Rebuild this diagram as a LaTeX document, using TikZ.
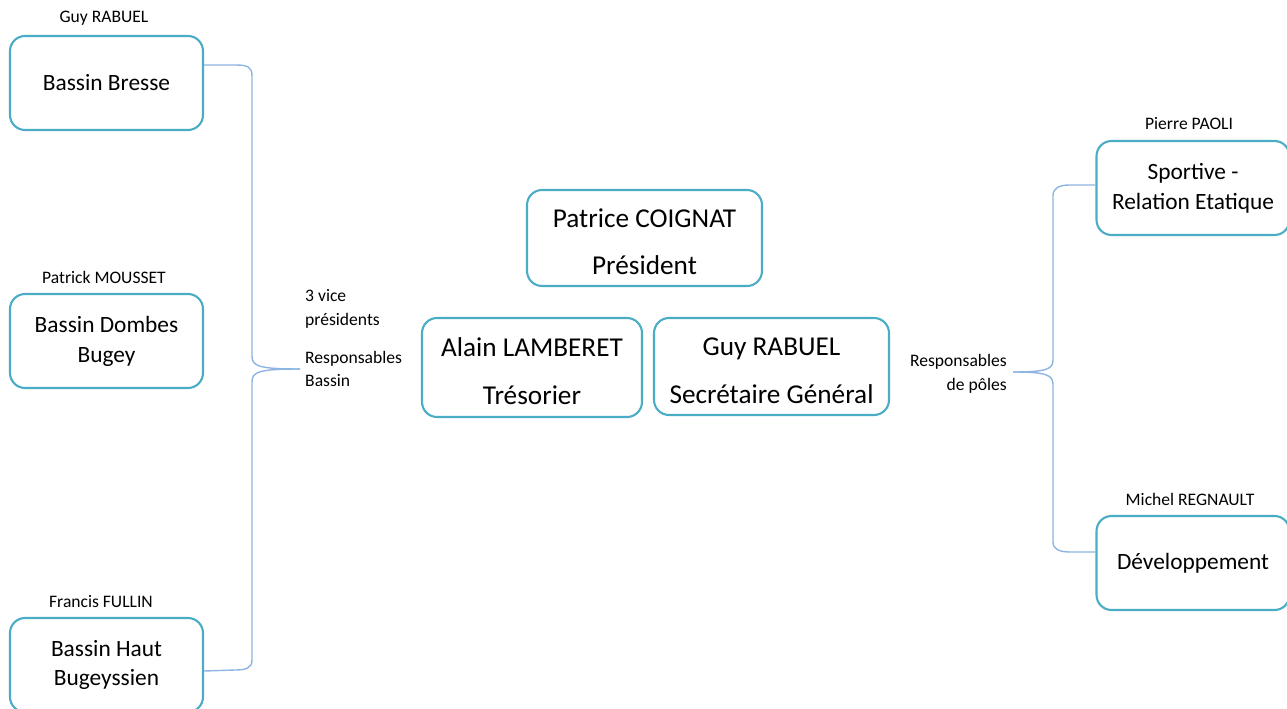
\documentclass[tikz,border=0pt]{standalone}
\usepackage{fontspec}
\setmainfont{Carlito}
\usepackage{tikz}

\definecolor{cadrebleu}{RGB}{75,172,198}
\definecolor{lienbleu}{RGB}{141,180,226}

\newcommand{\hautligne}{\rule{0pt}{15pt}}

\tikzset{
    cadre/.style={draw=cadrebleu, line width=1.2pt, rounded corners=0.3cm, align=center,
        font=\fontsize{13.3}{17}\selectfont, inner sep=2pt,
        minimum width=3.86cm, minimum height=1.88cm},
    bureau/.style={cadre, font=\fontsize{15.5}{18.6}\selectfont},
    nom/.style={font=\fontsize{10}{13.6}\selectfont},
    lien/.style={draw=lienbleu, line width=0.8pt}
}

\begin{document}
\begin{tikzpicture}[x=0.02cm, y=-0.02cm]
        \useasboundingbox (0,0) rectangle (1287,709);

        % bassins
        \node[cadre] (bresse) at (106.5,83) {Bassin Bresse};
        \node[cadre] (dombes) at (106.5,341) {Bassin Dombes\\Bugey};
        \node[cadre] (haut) at (106.5,665) {Bassin Haut\\Bugeyssien};

        \node[nom] (nbresse) at (104,18) {Guy RABUEL};
        \node[nom] (ndombes) at (104,277) {Patrick MOUSSET};
        \node[nom] (nhaut) at (101,602) {Francis FULLIN};

        % bureau
        \node[bureau, minimum width=4.7cm, minimum height=1.92cm] (president) at (644.5,238)
            {\hautligne Patrice COIGNAT\\[8.6pt]Président};
        \node[bureau, minimum width=4.4cm, minimum height=1.98cm] (tresorier) at (532,367.5)
            {\hautligne Alain LAMBERET\\[8.6pt]Trésorier};
        \node[bureau, minimum width=4.7cm, minimum height=1.94cm] (secretaire) at (771.5,366.5)
            {\hautligne Guy RABUEL\\[8.6pt]Secrétaire Général};

        % poles
        \node[cadre] (sportive) at (1193,188) {Sportive -\\Relation Etatique};
        \node[cadre] (develop) at (1193,563) {Développement};

        \node[nom] (nsportive) at (1189,124) {Pierre PAOLI};
        \node[nom] (ndevelop) at (1190,499) {Michel REGNAULT};

        % accolades
        \node[nom, align=left, anchor=west] (vice) at (299,309) {3 vice\\présidents};
        \node[nom, align=left, anchor=west] (respbassin) at (299,369) {Responsables\\Bassin};
        \node[nom, align=right, anchor=east] (resppoles) at (1013,374) {Responsables\\de pôles};

        \coordinate (pointeG) at (300,369);
        \coordinate (pointeD) at (1013,372);

        \draw[lien] ([yshift=0.36cm]bresse.east) -- (235,65) .. controls (248,65) and (252,67) .. (252,76)
            -- (252,356) .. controls (252,366) and (258,369) .. (pointeG);
        \draw[lien] (pointeG) .. controls (258,369) and (252,372) .. (252,382)
            -- (252,660) .. controls (252,668) and (246,670) .. (235,670) -- ([yshift=-0.12cm]haut.east);

        \draw[lien] (pointeD) .. controls (1047,372) and (1053,369) .. (1053,360)
            -- (1053,196) .. controls (1053,188) and (1059,185) .. (1070,185) -- ([yshift=0.06cm]sportive.west);
        \draw[lien] (pointeD) .. controls (1047,372) and (1053,375) .. (1053,385)
            -- (1053,542) .. controls (1053,549) and (1059,552) .. (1070,552) -- ([yshift=0.22cm]develop.west);
    \end{tikzpicture}
\end{document}
